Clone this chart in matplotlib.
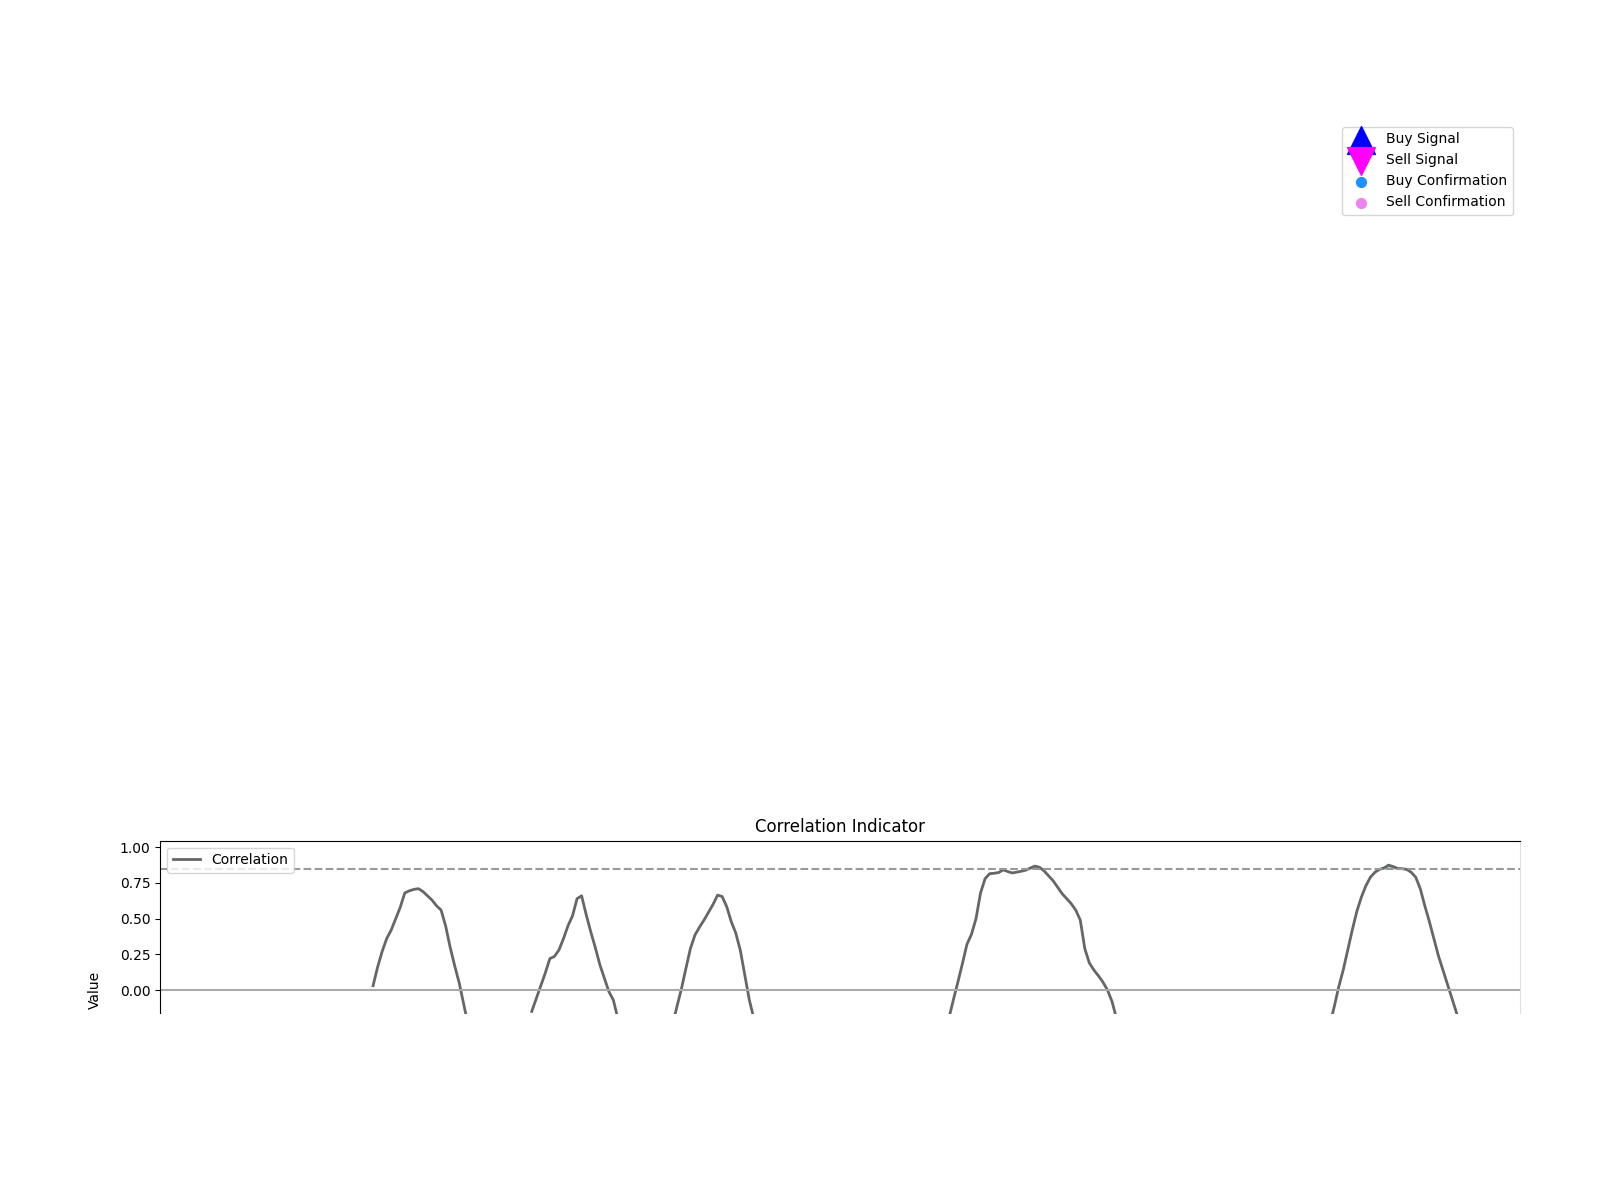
import numpy as np
import matplotlib
matplotlib.use("Agg")
import matplotlib.pyplot as plt
from matplotlib.patches import Rectangle

# ---- data ----
n_points = 300
hump1_start = 47
hump1 = [0.03, 0.16, 0.27, 0.36, 0.42, 0.50, 0.58, 0.68, 0.695, 0.705, 0.71,
         0.69, 0.66, 0.63, 0.59, 0.56, 0.45, 0.30, 0.17, 0.05, -0.10, -0.25]
hump2_start = 82
hump2 = [-0.15, -0.06, 0.03, 0.12, 0.22, 0.235, 0.28, 0.36, 0.45, 0.52, 0.64,
         0.66, 0.53, 0.41, 0.30, 0.18, 0.085, -0.01, -0.07, -0.2]
hump3_start = 113
hump3 = [-0.25, -0.12, 0.005, 0.15, 0.29, 0.385, 0.44, 0.49, 0.545, 0.60, 0.665,
         0.655, 0.585, 0.48, 0.40, 0.28, 0.105, -0.07, -0.2]
hump4_start = 174
hump4 = [-0.2, -0.07, 0.055, 0.185, 0.32, 0.39, 0.50, 0.68, 0.78, 0.815, 0.818,
         0.823, 0.842, 0.83, 0.82, 0.826, 0.832, 0.84, 0.855, 0.868, 0.86, 0.835,
         0.80, 0.766, 0.72, 0.675, 0.64, 0.605, 0.56, 0.49, 0.29, 0.19, 0.14,
         0.10, 0.055, 0.0, -0.08, -0.2]
hump5_start = 258
hump5 = [-0.25, -0.12, 0.02, 0.14, 0.28, 0.42, 0.55, 0.65, 0.73, 0.79, 0.825,
         0.845, 0.855, 0.875, 0.865, 0.852, 0.85, 0.845, 0.825, 0.79, 0.71,
         0.59, 0.48, 0.36, 0.24, 0.14, 0.04, -0.06, -0.16, -0.28]
threshold = 0.85
legend_labels = ["Buy Signal", "Sell Signal", "Buy Confirmation", "Sell Confirmation"]
ytick_values = [-1.0, -0.75, -0.5, -0.25, 0.0, 0.25, 0.5, 0.75, 1.0]

x = np.arange(n_points)
corr = np.full(n_points, np.nan)
for start, vals in [(hump1_start, hump1), (hump2_start, hump2), (hump3_start, hump3),
                    (hump4_start, hump4), (hump5_start, hump5)]:
    corr[start:start + len(vals)] = vals

fig = plt.figure(figsize=(16, 12), dpi=100)

# main (empty) price axes – only its legend is visible
ax_main = fig.add_axes([0.1, 0.4, 0.85, 0.5])
ax_main.scatter([], [], marker='^', s=400, color='blue', label=legend_labels[0])
ax_main.scatter([], [], marker='v', s=400, color='magenta', label=legend_labels[1])
ax_main.scatter([], [], marker='o', s=50, color='dodgerblue', label=legend_labels[2])
ax_main.scatter([], [], marker='o', s=50, color='violet', label=legend_labels[3])
ax_main.legend(loc='upper right')
ax_main.axis('off')

# correlation indicator axes (lower part is hidden behind a white band)
ax = fig.add_axes([0.1, 0.0506, 0.85, 0.2994 - 0.0506])
ax.plot(x, corr, color='#666666', lw=2, label='Correlation')
ax.axhline(threshold, color='#999999', ls='--', lw=1.5)
ax.axhline(0, color='#aaaaaa', lw=1.5)
ax.fill_between(x, corr, threshold, where=corr >= threshold, interpolate=True,
                color='green', alpha=0.3)
ax.set_xlim(0, n_points)
ax.set_ylim(-1.046, 1.046)
ax.set_yticks(ytick_values)
ax.set_yticklabels([f"{v:.2f}".replace('-', '\u2212') for v in ytick_values])
ax.set_xticks([])
ax.spines['right'].set_color('#e0e0e0')
ax.set_title('Correlation Indicator')
ax.set_ylabel('Value')
ax.legend(loc='upper left')

# white band covering the lower part of the figure
fig.add_artist(Rectangle((0, 0), 1, 1 - 1014 / 1200, transform=fig.transFigure,
                         facecolor='white', edgecolor='none', zorder=10))

fig.savefig('out.png', dpi=100)
